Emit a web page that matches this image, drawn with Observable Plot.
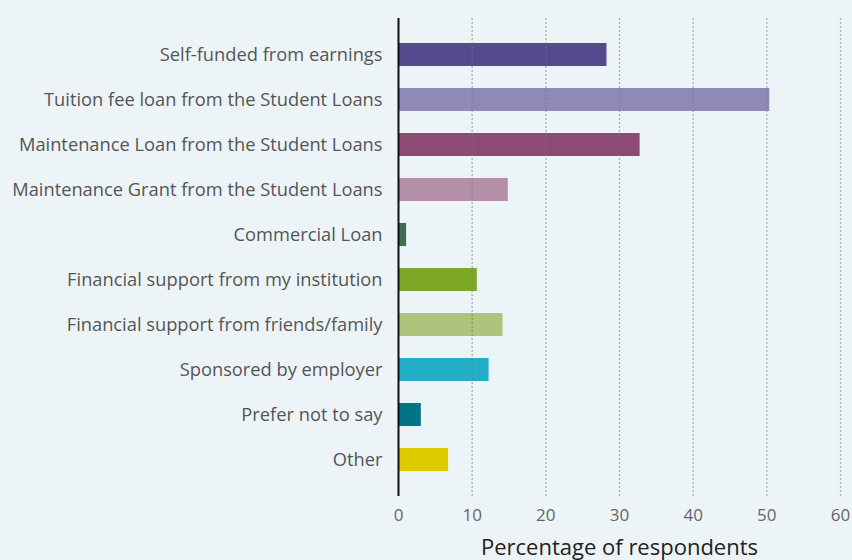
<!DOCTYPE html>
<html><head><meta charset="utf-8">
<script src="https://cdn.jsdelivr.net/npm/d3@7"></script>
<script src="https://cdn.jsdelivr.net/npm/@observablehq/plot@0.6"></script>
<style>
html,body{margin:0;padding:0;background:#edf4f7;}
#chart svg{background:#edf4f7;font-family:"Open Sans",sans-serif;}
#chart g[aria-label="x-axis label"] text{font-size:22px;fill:#222;}
</style></head>
<body><div id="chart"></div>
<script>
const categories = [
  "Self-funded from earnings",
  "Tuition fee loan from the Student Loans",
  "Maintenance Loan from the Student Loans",
  "Maintenance Grant from the Student Loans",
  "Commercial Loan",
  "Financial support from my institution",
  "Financial support from friends/family",
  "Sponsored by employer",
  "Prefer not to say",
  "Other"
];
const values = [28.3, 50.4, 32.8, 14.9, 1.1, 10.7, 14.2, 12.3, 3.1, 6.8];
const colors = ["#534b8e", "#8f89b8", "#8e4a72", "#b48fa7", "#3e6e50", "#7ea827", "#aec47c", "#23afc8", "#007589", "#e0ca00"];
const xTicks = [0, 10, 20, 30, 40, 50, 60];

const data = categories.map((c, i) => ({category: c, value: values[i], color: colors[i]}));

const chart = Plot.plot({
  width: 852,
  height: 560,
  marginLeft: 398,
  marginRight: 12,
  marginTop: 18,
  marginBottom: 64,
  style: {background: "#edf4f7", fontFamily: "Open Sans, sans-serif"},
  x: {domain: [0, 60], ticks: xTicks},
  y: {domain: categories, padding: 0.5},
  marks: [
    Plot.barX(data, {y: "category", x: "value", fill: "color"}),
    Plot.gridX(xTicks.filter(d => d > 0), {stroke: "#777", strokeOpacity: 0.55, strokeDasharray: "2,2", strokeWidth: 1.3}),
    Plot.ruleX([0], {stroke: "#111", strokeWidth: 2}),
    Plot.axisX(xTicks, {tickSize: 0, tickPadding: 12, fontSize: 17, color: "#666", label: "Percentage of respondents", labelAnchor: "center", labelArrow: "none", labelOffset: 58}),
    Plot.axisY({tickSize: 0, tickPadding: 16, fontSize: 18.3, color: "#555", label: null})
  ]
});
document.getElementById("chart").append(chart);
</script>
</body></html>
